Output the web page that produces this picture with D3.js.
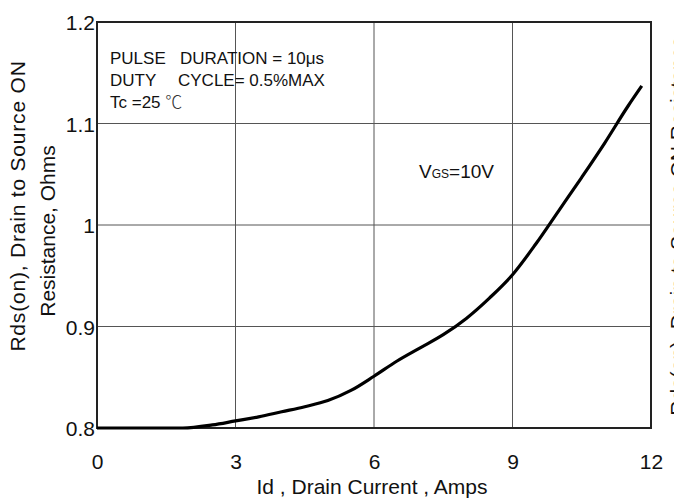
<!DOCTYPE html>
<html>
<head>
<meta charset="utf-8">
<script src="https://cdn.jsdelivr.net/npm/d3@7"></script>
<style>
  body { margin: 0; background: #fff; }
  svg text { font-family: "Liberation Sans", Arial, sans-serif; fill: #111; }
</style>
</head>
<body>
<div id="chart"></div>
<script>
// Id (A) vs Rds(on) (Ohm)
let id_amps = [0, 1, 1.86, 2.5, 3, 3.5, 4, 4.5, 5, 5.5, 6, 6.5, 7, 7.5, 8, 8.5, 9, 9.5, 10, 10.5, 11, 11.5, 11.8];
let rds_ohms = [0.8, 0.8, 0.8, 0.803, 0.807, 0.811, 0.816, 0.821, 0.827, 0.837, 0.851, 0.866, 0.879, 0.892, 0.908, 0.928, 0.951, 0.981, 1.014, 1.047, 1.081, 1.117, 1.137];
let x_ticks = [0, 3, 6, 9, 12];
let y_ticks = [0.8, 0.9, 1, 1.1, 1.2];
let y_tick_labels = ["0.8", "0.9", "1", "1.1", "1.2"];

let w = 674, h = 504;
let pl = 97, pr = 651, pt = 22, pb = 428;

var svg = d3.select("#chart")
  .append("svg")
    .attr("width", w)
    .attr("height", h);

var x = d3.scaleLinear().domain([0, 12]).range([pl, pr]);
var y = d3.scaleLinear().domain([0.8, 1.2]).range([pb, pt]);

// grid
svg.append("g")
  .selectAll("line")
  .data(x_ticks.slice(1, -1)).enter()
  .append("line")
    .attr("x1", function(d){ return x(d); })
    .attr("x2", function(d){ return x(d); })
    .attr("y1", pt).attr("y2", pb)
    .attr("stroke", "#555").attr("stroke-width", 1);

svg.append("g")
  .selectAll("line")
  .data(y_ticks.slice(1, -1)).enter()
  .append("line")
    .attr("y1", function(d){ return y(d); })
    .attr("y2", function(d){ return y(d); })
    .attr("x1", pl).attr("x2", pr)
    .attr("stroke", "#555").attr("stroke-width", 1);

// frame
svg.append("rect")
  .attr("x", pl).attr("y", pt)
  .attr("width", pr - pl).attr("height", pb - pt)
  .attr("fill", "none")
  .attr("stroke", "#222")
  .attr("stroke-width", 2);

// tick labels through d3 axes, no tick marks
var xAxis = svg.append("g")
  .attr("transform", "translate(0," + (pb + 41) + ")")
  .call(d3.axisBottom(x).tickValues(x_ticks).tickSize(0).tickPadding(0).tickFormat(d3.format("d")));
xAxis.select(".domain").remove();
xAxis.selectAll("text")
  .attr("dy", null)
  .style("font-size", "21px")
  .style("font-family", "Liberation Sans, Arial, sans-serif");

var yAxis = svg.append("g")
  .attr("transform", "translate(" + (pl - 2) + ",0)")
  .call(d3.axisLeft(y).tickValues(y_ticks).tickSize(0).tickPadding(0)
    .tickFormat(function(d, i){ return y_tick_labels[i]; }));
yAxis.select(".domain").remove();
yAxis.selectAll("text")
  .attr("dy", "0.36em")
  .style("font-size", "21px")
  .style("font-family", "Liberation Sans, Arial, sans-serif");

// the curve
var line = d3.line()
  .x(function(d, i){ return x(id_amps[i]); })
  .y(function(d){ return y(d); })
  .curve(d3.curveMonotoneX);

svg.append("path")
  .datum(rds_ohms)
  .attr("fill", "none")
  .attr("stroke", "#000")
  .attr("stroke-width", 3.2)
  .attr("stroke-linejoin", "round")
  .attr("d", line);

// axis titles
svg.append("text")
  .attr("x", (pl + pr) / 2 - 2).attr("y", 494)
  .attr("text-anchor", "middle")
  .style("font-size", "21px")
  .text("Id , Drain Current , Amps");

var ylab = svg.append("g")
  .attr("transform", "translate(25,206) rotate(-90)");
ylab.append("text")
  .attr("text-anchor", "middle")
  .style("font-size", "21px")
  .style("letter-spacing", "0.8px")
  .text("Rds(on), Drain to Source ON");
ylab.append("text")
  .attr("y", 30)
  .attr("x", -25)
  .attr("text-anchor", "middle")
  .style("font-size", "21px")
  .text("Resistance, Ohms");

// copy on the right edge, mostly outside the page as in the source
svg.append("text")
  .attr("transform", "translate(685,226) rotate(-90)")
  .attr("text-anchor", "middle")
  .style("font-size", "21px")
  .text("Rds(on), Drain to Source ON Resistance");

// notes
var notes = svg.append("g").style("font-size", "17px");
notes.append("text").attr("x", 110).attr("y", 64).text("PULSE");
notes.append("text").attr("x", 180).attr("y", 64).text("DURATION = 10μs");
notes.append("text").attr("x", 110).attr("y", 86).text("DUTY");
notes.append("text").attr("x", 178).attr("y", 86).text("CYCLE= 0.5%MAX");
var tc = notes.append("text").attr("x", 110).attr("y", 108);
tc.append("tspan").text("Tc =25 ");
tc.append("tspan")
  .style("font-family", "Noto Sans CJK SC, sans-serif")
  .style("font-weight", "300")
  .style("fill", "#333")
  .text("℃");

var vgs = svg.append("text")
  .attr("x", 419).attr("y", 178)
  .style("font-size", "19px");
vgs.append("tspan").text("V");
vgs.append("tspan").style("font-size", "12px").text("GS");
vgs.append("tspan").text("=10V");
</script>
</body>
</html>
